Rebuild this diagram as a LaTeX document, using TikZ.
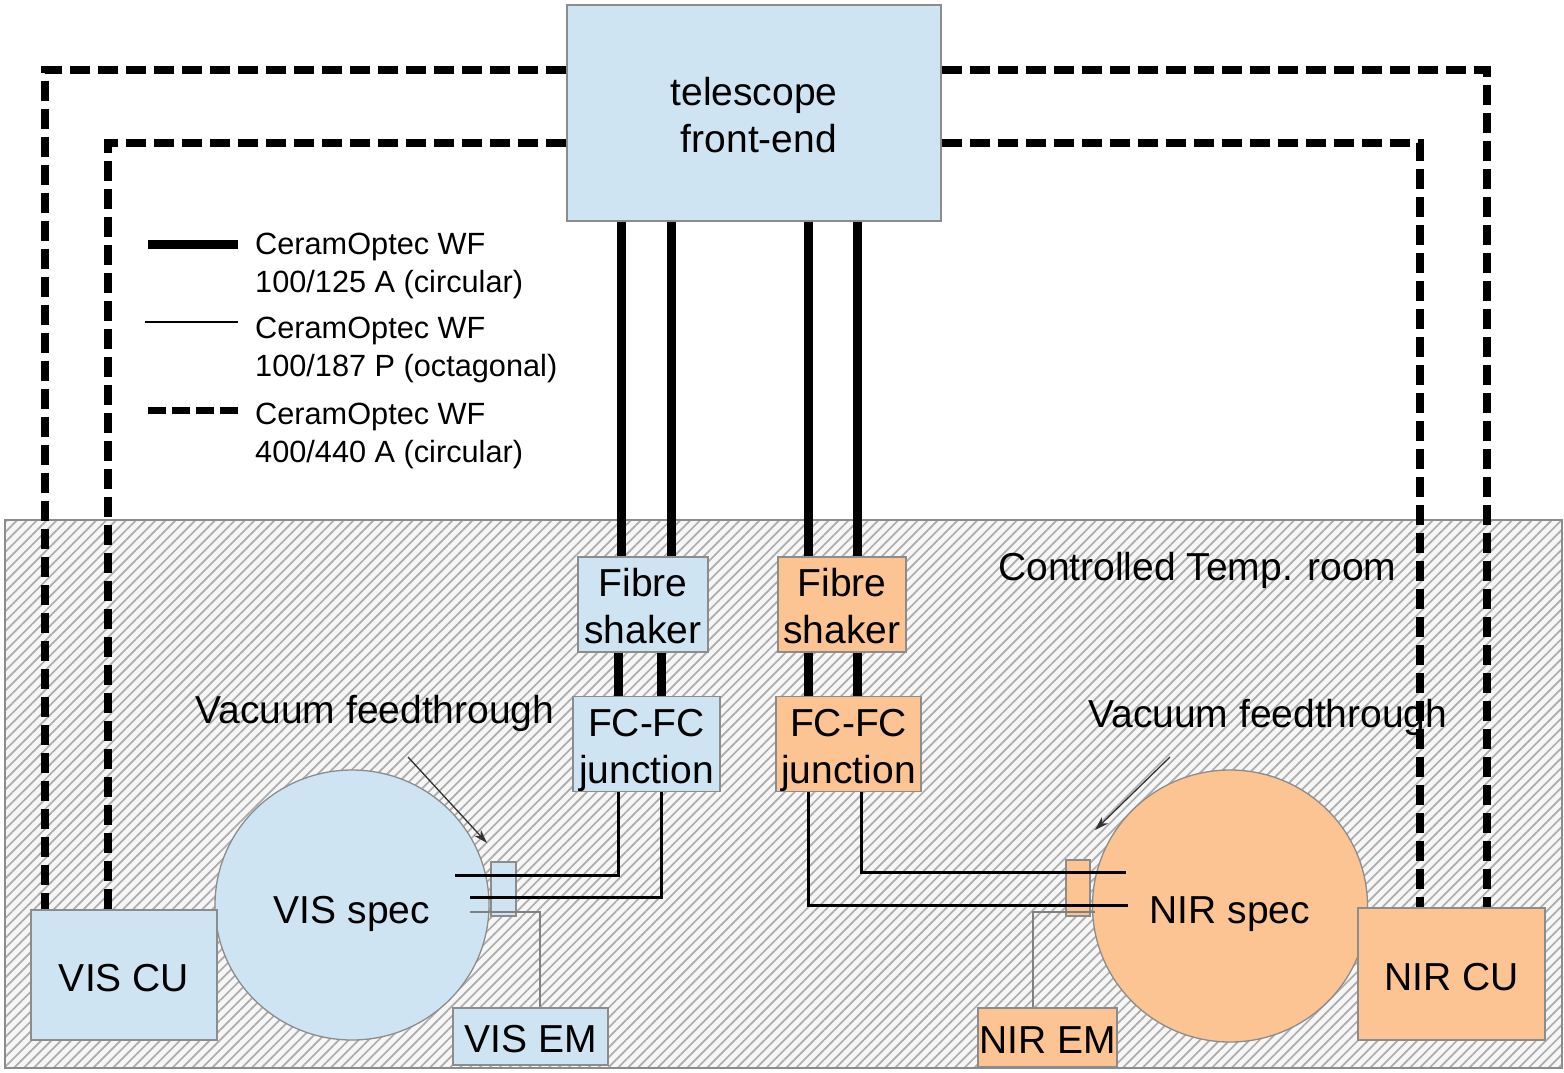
\documentclass[tikz,border=0pt]{standalone}
\usepackage{fontspec}
\setmainfont{Liberation Sans}
\usetikzlibrary{patterns.meta,arrows.meta,shapes.geometric}
\definecolor{visblue}{RGB}{206,228,242}
\definecolor{nirorange}{RGB}{251,196,146}
\definecolor{edgegray}{RGB}{140,140,140}
\newcommand\mainfs{\fontsize{39}{47}\selectfont}
\newcommand\legfs{\fontsize{30.7}{38}\selectfont}
\tikzset{
  boxbase/.style={draw=edgegray,line width=1.3pt,inner sep=0pt,align=center,font=\mainfs},
  visbox/.style={boxbase,fill=visblue},
  nirbox/.style={boxbase,fill=nirorange},
  thickfib/.style={line width=9pt},
  medfib/.style={line width=3pt},
  widefib/.style={line width=8pt,dash pattern=on 20pt off 8pt},
  emline/.style={draw=gray,line width=1.6pt},
  ptr/.style={draw=black!80,line width=1.3pt,-{Stealth[length=14pt,width=9pt]}},
  plainlbl/.style={inner sep=0pt,font=\mainfs,anchor=west},
  leglbl/.style={inner sep=0pt,font=\legfs,anchor=west,align=left}
}
\begin{document}
\begin{tikzpicture}[x=1pt,y=-1pt]
\useasboundingbox (0,0) rectangle (1564,1072);
% controlled temperature room
\fill[gray!7] (5,520) rectangle (1562,1068);
\fill[pattern={Lines[angle=45,distance=7pt,line width=1.7pt]},pattern color=gray!65] (5,520) rectangle (1562,1068);
\draw[edgegray,line width=1.3pt] (5,520) rectangle (1562,1068);
\node[plainlbl] (roomlbl) at (998,570) {Controlled Temp. room};

% helper coordinates
\coordinate (yo) at (0,70);
\coordinate (yi) at (0,143);
\coordinate (xlo) at (45,0);
\coordinate (xli) at (108,0);
\coordinate (xri) at (1420,0);
\coordinate (xro) at (1487,0);
\coordinate (xa) at (621,0);
\coordinate (xb) at (671,0);
\coordinate (xc) at (808,0);
\coordinate (xd) at (857,0);
\coordinate (xa2) at (618,0);
\coordinate (xb2) at (661,0);
\coordinate (xd2) at (861,0);
\coordinate (xem) at (540,0);
\coordinate (xnem) at (1033,0);

% nodes
\node[visbox,minimum width=374pt,minimum height=216pt,text height=78.5pt] (tel) at (754,113) {telescope\\\hspace*{10pt}front-end};
\node[visbox,minimum width=130pt,minimum height=95pt,text height=78.5pt] (shakerL) at (643,604.5) {Fibre\\shaker};
\node[nirbox,minimum width=128pt,minimum height=95pt,text height=78.5pt] (shakerR) at (842,604.5) {Fibre\\shaker};
\node[visbox,minimum width=147pt,minimum height=92pt,text height=86.5pt] (juncL) at (646.5,744) {FC-FC\\junction};
\node[nirbox,minimum width=145pt,minimum height=92pt,text height=86.5pt] (juncR) at (848.5,744) {FC-FC\\junction};
\node[visbox,ellipse,minimum width=274pt,minimum height=270pt,text height=46pt] (visspec) at (352,905) {VIS spec};
\node[nirbox,ellipse,minimum width=275pt,minimum height=272pt,text height=44pt] (nirspec) at (1230,906) {NIR spec};
\node[visbox,minimum width=186pt,minimum height=130pt,text height=33pt] (viscu) at (124,975) {VIS CU};
\node[nirbox,minimum width=187pt,minimum height=132pt,text height=34pt] (nircu) at (1451.5,974) {NIR CU};
\node[visbox,minimum width=155pt,minimum height=57pt,text height=32pt] (visem) at (530.5,1036.5) {VIS EM};
\node[nirbox,minimum width=139pt,minimum height=59pt,text height=32pt] (nirem) at (1047.5,1037.5) {NIR EM};
\node[visbox,minimum width=25pt,minimum height=54pt] (ftL) at (503.5,889) {};
\node[nirbox,minimum width=24pt,minimum height=56pt] (ftR) at (1078,888) {};

% endpoints inside spectrographs
\coordinate (vl1) at (455,875);
\coordinate (vl2) at (470,897);
\coordinate (vl3) at (470,912);
\coordinate (nl1) at (1126,872);
\coordinate (nl2) at (1128,905);
\coordinate (nl3) at (1095,912);

% wide dashed fibres to calibration units
\draw[widefib] (tel.west |- yo) -| (viscu.north -| xlo);
\draw[widefib] (tel.west |- yi) -| (viscu.north -| xli);
\draw[widefib] (tel.east |- yo) -| (nircu.north -| xro);
\draw[widefib] (tel.east |- yi) -| (nircu.north -| xri);

% thick fibres telescope -> shakers -> junctions
\draw[thickfib] (tel.south -| xa) -- (shakerL.north -| xa);
\draw[thickfib] (tel.south -| xb) -- (shakerL.north -| xb);
\draw[thickfib] (tel.south -| xc) -- (shakerR.north -| xc);
\draw[thickfib] (tel.south -| xd) -- (shakerR.north -| xd);
\draw[thickfib] (shakerL.south -| xa2) -- (juncL.north -| xa2);
\draw[thickfib] (shakerL.south -| xb2) -- (juncL.north -| xb2);
\draw[thickfib] (shakerR.south -| xc) -- (juncR.north -| xc);
\draw[thickfib] (shakerR.south -| xd) -- (juncR.north -| xd);

% octagonal fibres junction -> spectrographs
\draw[medfib] (juncL.south -| xa2) |- (vl1);
\draw[medfib] (juncL.south -| xb2) |- (vl2);
\draw[medfib] (juncR.south -| xc) |- (nl2);
\draw[medfib] (juncR.south -| xd2) |- (nl1);

% exposure meter links
\draw[emline] (vl3) -| (visem.north -| xem);
\draw[emline] (nl3) -| (nirem.north -| xnem);

% vacuum feedthrough labels
\node[plainlbl] (vfL) at (195,713) {Vacuum feedthrough};
\node[plainlbl] (vfR) at (1088,717) {Vacuum feedthrough};
\coordinate (aLs) at (408,757);
\coordinate (aLe) at (487,843);
\coordinate (aRs) at (1170,757);
\coordinate (aRe) at (1095,830);
\draw[ptr] (aLs) -- (aLe);
\draw[ptr] (aRs) -- (aRe);

% legend
\coordinate (l1a) at (148,244); \coordinate (l1b) at (238,244);
\coordinate (l2a) at (145,322); \coordinate (l2b) at (238,322);
\coordinate (l3a) at (148,410); \coordinate (l3b) at (238,410);
\draw[thickfib] (l1a) -- (l1b);
\draw[line width=2pt] (l2a) -- (l2b);
\draw[line width=7pt,dash pattern=on 18pt off 6pt] (l3a) -- (l3b);
\node[leglbl] (leg1) at (255,266) {CeramOptec WF\\100/125 A (circular)};
\node[leglbl] (leg2) at (255,350) {CeramOptec WF\\100/187 P (octagonal)};
\node[leglbl] (leg3) at (255,436) {CeramOptec WF\\400/440 A (circular)};
\end{tikzpicture}
\end{document}
